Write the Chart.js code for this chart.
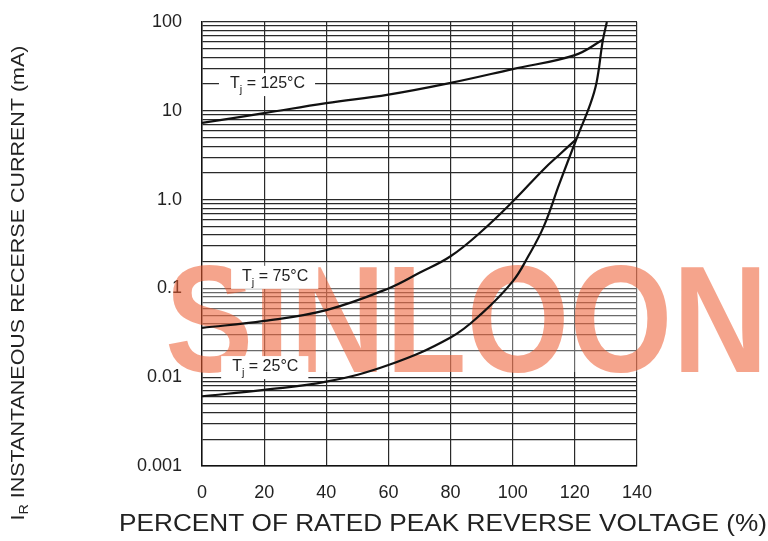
<!DOCTYPE html>
<html>
<head>
<meta charset="utf-8">
<script src="https://cdn.jsdelivr.net/npm/chart.js@4/dist/chart.umd.min.js"></script>
<style>
  html, body { margin: 0; padding: 0; background: #fff; }
  #wrap { width: 768px; height: 541px; }
</style>
</head>
<body>
<div id="wrap"><canvas id="irChart" width="768" height="541"></canvas></div>
<script>
// reverse current vs percent of rated peak reverse voltage

// x ticks (percent)
const xTicks = [0, 20, 40, 60, 80, 100, 120, 140];

// y decades and their printed labels
const yDecades = [0.001, 0.01, 0.1, 1, 10, 100];
const yDecadeLabels = ['0.001', '0.01', '0.1', '1.0', '10', '100'];

// Tj = 125°C
const t125X = [0, 20, 40, 60, 80, 100, 120, 129];
const t125Y = [7.3, 9.4, 12.2, 15.2, 20.6, 29.5, 42.4, 63];

// Tj = 75°C
const t75X = [0, 20, 40, 60, 70, 80, 90, 100, 110, 115, 120.5];
const t75Y = [0.036, 0.043, 0.057, 0.1, 0.15, 0.23, 0.44, 0.95, 2.2, 3.2, 4.8];

// Tj = 25°C
const t25X = [0, 20, 40, 60, 80, 90, 100, 105, 110, 115, 120.5, 125, 127, 129, 130.3];
const t25Y = [0.0061, 0.0072, 0.0089, 0.0137, 0.028, 0.052, 0.12, 0.23, 0.5, 1.5, 4.8, 12, 21, 62, 100];

const curveLabels = ['125°C', '75°C', '25°C'];
// label anchors (data units) : left x, centre y
const labelAt = [[9.0, 20], [12.9, 0.135], [9.7, 0.013]];

// all horizontal grid values 1..9 per decade
const yGrid = [];
for (let d = -3; d <= 1; d++) {
    for (let m = 1; m <= 9; m++) yGrid.push(+(m * Math.pow(10, d)).toPrecision(3));
}
yGrid.push(100);

function toPoints(xs, ys) { return xs.map((x, i) => ({x: x, y: ys[i]})); }

const FONT = '"Liberation Sans", Arial, sans-serif';

// labels, titles and watermark
const decorPlugin = {
    id: 'decor',
    beforeDatasetsDraw(chart) {
        const {ctx, chartArea: a} = chart;
        ctx.save();
        // faint band + watermark text
        ctx.fillStyle = 'rgba(255,255,255,0.3)';
        ctx.fillRect(a.left, 262, 768 - a.left, 110);
        ctx.font = 'bold 100px ' + FONT;
        const w = ctx.measureText('SINLOON').width;
        ctx.translate(165, 372);
        ctx.scale(603 / w, 110 / 72);
        ctx.fillStyle = 'rgba(236,90,45,0.55)';
        ctx.textBaseline = 'alphabetic';
        ctx.fillText('SINLOON', 0, 0);
        ctx.restore();
    },
    afterDatasetsDraw(chart) {
        const {ctx, scales: {x, y}} = chart;
        ctx.save();
        curveLabels.forEach((t, i) => {
            const px = x.getPixelForValue(labelAt[i][0]);
            const py = y.getPixelForValue(labelAt[i][1]);
            ctx.font = '16px ' + FONT;
            const wT = ctx.measureText('T').width;
            const rest = ' = ' + t;
            const wR = ctx.measureText(rest).width;
            ctx.font = '11px ' + FONT;
            const wj = ctx.measureText('j').width;
            const total = wT + wj + wR;
            ctx.fillStyle = '#fff';
            ctx.fillRect(px - 11, py - 11, total + 21, 23);
            ctx.fillStyle = '#222';
            ctx.textBaseline = 'middle';
            ctx.textAlign = 'left';
            ctx.font = '16px ' + FONT;
            ctx.fillText('T', px, py);
            ctx.font = '11px ' + FONT;
            ctx.fillText('j', px + wT, py + 6);
            ctx.font = '16px ' + FONT;
            ctx.fillText(rest, px + wT + wj, py);
        });
        ctx.restore();
    },
    afterDraw(chart) {
        const {ctx} = chart;
        ctx.save();
        ctx.fillStyle = '#222';
        ctx.textBaseline = 'middle';
        // x title
        const xt = 'PERCENT OF RATED PEAK REVERSE VOLTAGE (%)';
        ctx.font = '24px ' + FONT;
        const xw = ctx.measureText(xt).width;
        ctx.save();
        ctx.translate(443, 524);
        ctx.scale(648 / xw, 1);
        ctx.textAlign = 'center';
        ctx.fillText(xt, 0, 0);
        ctx.restore();
        // y title, rotated, with subscript R
        const yt = ' INSTANTANEOUS RECERSE CURRENT (mA)';
        ctx.font = '18px ' + FONT;
        const wI = ctx.measureText('I').width;
        const wRest = ctx.measureText(yt).width;
        ctx.font = '12px ' + FONT;
        const wSub = ctx.measureText('R').width;
        const tot = wI + wSub + wRest;
        ctx.translate(19, 283);
        ctx.rotate(-Math.PI / 2);
        ctx.scale(475 / tot, 1);
        ctx.textAlign = 'left';
        let cx = -tot / 2;
        ctx.font = '18px ' + FONT;
        ctx.fillText('I', cx, 0);
        cx += wI;
        ctx.font = '12px ' + FONT;
        ctx.fillText('R', cx, 6);
        cx += wSub;
        ctx.font = '18px ' + FONT;
        ctx.fillText(yt, cx, 0);
        ctx.restore();
    }
};

const lineStyle = {borderColor: '#111', borderWidth: 2.2, pointRadius: 0, fill: false, tension: 0.4};

new Chart(document.getElementById('irChart'), {
    type: 'line',
    data: {
        datasets: [
            Object.assign({label: 'Tj = 125°C', data: toPoints(t125X, t125Y)}, lineStyle),
            Object.assign({label: 'Tj = 75°C', data: toPoints(t75X, t75Y)}, lineStyle),
            Object.assign({label: 'Tj = 25°C', data: toPoints(t25X, t25Y)}, lineStyle)
        ]
    },
    options: {
        responsive: false,
        animation: false,
        layout: {padding: {top: 22, right: 131, left: 0, bottom: 0}},
        plugins: {legend: {display: false}, tooltip: {enabled: false}},
        scales: {
            x: {
                type: 'linear',
                min: 0, max: 140,
                afterBuildTicks: s => { s.ticks = xTicks.map(v => ({value: v})); },
                afterFit: s => { s.height = 75; },
                grid: {color: '#2a2a2a', lineWidth: 1.2, drawTicks: false},
                border: {color: '#111', width: 1.5},
                ticks: {color: '#222', font: {family: FONT, size: 18}, padding: 16, maxRotation: 0, autoSkip: false}
            },
            y: {
                type: 'logarithmic',
                min: 0.001, max: 100,
                afterBuildTicks: s => { s.ticks = yGrid.map(v => ({value: v})); },
                afterFit: s => { s.width = 202; s.paddingTop = 0; s.paddingBottom = 0; },
                grid: {color: '#2a2a2a', lineWidth: 1.2, drawTicks: false},
                border: {color: '#111', width: 1.5},
                ticks: {
                    color: '#222', font: {family: FONT, size: 18}, padding: 20, autoSkip: false,
                    callback: v => {
                        const i = yDecades.findIndex(d => Math.abs(d - v) / d < 1e-6);
                        return i >= 0 ? yDecadeLabels[i] : '';
                    }
                }
            }
        }
    },
    plugins: [decorPlugin]
});
</script>
</body>
</html>
